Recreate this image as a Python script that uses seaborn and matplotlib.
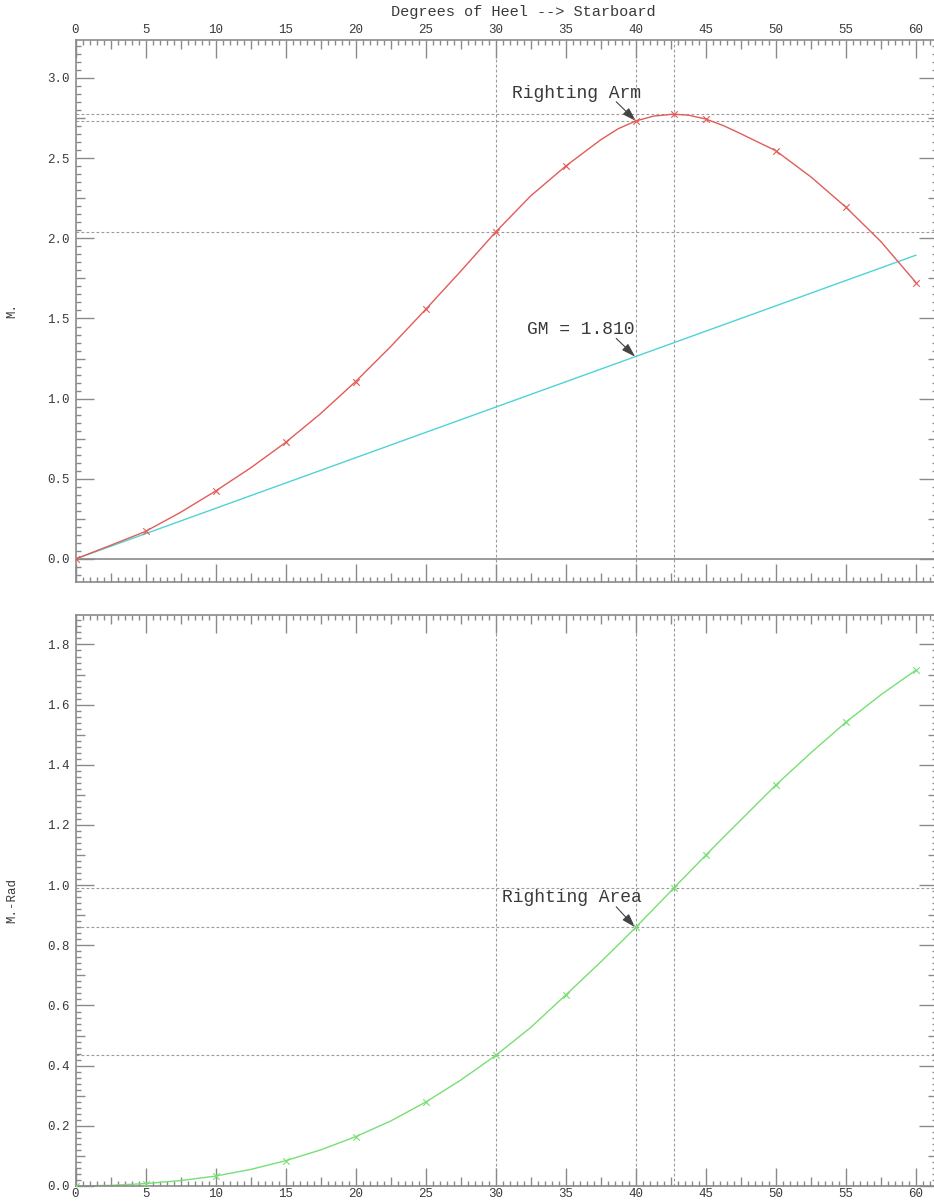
import numpy as np
import pandas as pd
import matplotlib
matplotlib.use("Agg")
import matplotlib.pyplot as plt
import seaborn as sns
from matplotlib.ticker import FixedLocator, MultipleLocator, FuncFormatter

# ---------------- data ----------------
heel_deg = [0, 2.5, 5, 7.5, 10, 12.5, 15, 17.5, 20, 22.5, 25, 27.5, 30,
            32.5, 35, 37.5, 38.75, 40, 41.25, 42.5, 42.73, 43.75, 45, 46.25,
            47.5, 50, 52.5, 55, 57.5, 60]
righting_arm = [0.0, 0.085, 0.172, 0.291, 0.424, 0.568, 0.727, 0.907, 1.107,
                1.325, 1.557, 1.795, 2.040, 2.265, 2.451, 2.615, 2.684, 2.732,
                2.762, 2.773, 2.774, 2.768, 2.744, 2.703, 2.652, 2.546, 2.383,
                2.194, 1.979, 1.724]
righting_area = [0.0, 0.002, 0.008, 0.018, 0.033, 0.055, 0.084, 0.120, 0.164,
                 0.216, 0.279, 0.352, 0.434, 0.527, 0.635, 0.745, 0.802, 0.860,
                 0.920, 0.980, 0.992, 1.040, 1.100, 1.159, 1.217, 1.333, 1.440,
                 1.542, 1.633, 1.715]
marker_heel = [0, 5, 10, 15, 20, 25, 30, 35, 40, 42.73, 45, 50, 55, 60]

gm_heel = [0, 60]
gm_arm = [0.0, 1.895]

ref_heel = [30, 40, 42.73]
ref_arm = [2.040, 2.732, 2.774]
ref_area = [0.434, 0.860, 0.992]

x_tick_labels = ["0", "5", "10", "15", "20", "25", "30", "35", "40", "45", "50", "55", "60"]

title_text = "Degrees of Heel --> Starboard"
top_ylabel = "M."
bottom_ylabel = "M.-Rad"

# annotation: text, text position, arrow tail, arrow head
arm_note = ("Righting Arm", (35.8, 2.906), (38.6, 2.852), (40, 2.732))
gm_note = ("GM = 1.810", (36.05, 1.433), (38.6, 1.376), (39.95, 1.262))
area_note = ("Righting Area", (35.45, 0.959), (38.6, 0.928), (39.95, 0.860))

# ---------------- styling ----------------
sns.set_theme(style="white")
plt.rcParams["font.family"] = ["Liberation Mono", "DejaVu Sans Mono"]
TXT = "#3a3a3a"
AXC = "#8a8a8a"
RED = "#e25c58"
CYAN = "#4fd3d6"
GREEN = "#78df74"
DASH = "#9a9a9a"

df = pd.DataFrame({"heel": heel_deg, "arm": righting_arm, "area": righting_area})
mk = df[df["heel"].isin(marker_heel)]
gm_df = pd.DataFrame({"heel": gm_heel, "arm": gm_arm})

W, H = 934, 1202
fig = plt.figure(figsize=(W / 100, H / 100), dpi=100)
x_left, x_right = 75.5, 937.0
px_per_deg = (916.0 - 75.5) / 60.0
xmax = (x_right - x_left) / px_per_deg

ax1 = fig.add_axes([x_left / W, (H - 582) / H, (x_right - x_left) / W, 542 / H])
ax2 = fig.add_axes([x_left / W, (H - 1186) / H, (x_right - x_left) / W, 571 / H])

# ---------- top panel ----------
sns.lineplot(data=gm_df, x="heel", y="arm", ax=ax1, color=CYAN, lw=1.0, legend=False)
sns.lineplot(data=df, x="heel", y="arm", ax=ax1, color=RED, lw=1.0, legend=False)
sns.scatterplot(data=mk, x="heel", y="arm", ax=ax1, color=RED, marker="x",
                s=22, linewidth=0.8, legend=False, zorder=4)
ax1.axhline(0, color=AXC, lw=1.2, zorder=1)
for xv in ref_heel:
    ax1.axvline(xv, color=DASH, lw=0.8, ls=(0, (2.5, 2.0)), zorder=0)
for yv in ref_arm:
    ax1.axhline(yv, color=DASH, lw=0.8, ls=(0, (2.5, 2.0)), zorder=0)
ax1.set_ylim(-0.1435, 3.237)

# ---------- bottom panel ----------
sns.lineplot(data=df, x="heel", y="area", ax=ax2, color=GREEN, lw=1.0, legend=False)
sns.scatterplot(data=mk, x="heel", y="area", ax=ax2, color=GREEN, marker="x",
                s=22, linewidth=0.8, legend=False, zorder=4)
for xv in ref_heel:
    ax2.axvline(xv, color=DASH, lw=0.8, ls=(0, (2.5, 2.0)), zorder=0)
for yv in ref_area:
    ax2.axhline(yv, color=DASH, lw=0.8, ls=(0, (2.5, 2.0)), zorder=0)
ax2.set_ylim(0, 1.898)

# ---------- axes decoration ----------
x_major = np.arange(0, 62.5, 2.5)


def x_fmt(v, p):
    if abs(v / 5 - round(v / 5)) < 1e-6:
        return x_tick_labels[int(round(v / 5))]
    return ""


def style_axes(ax, labels_top, y_step, y_minor, ymax_tick):
    ax.set_xlim(0, xmax)
    ax.set_xlabel("")
    ax.set_ylabel("")
    for s in ax.spines.values():
        s.set_color(AXC)
        s.set_linewidth(1.2)
    ax.xaxis.set_major_locator(FixedLocator(x_major))
    ax.xaxis.set_major_formatter(FuncFormatter(x_fmt))
    ax.xaxis.set_minor_locator(MultipleLocator(0.5))
    y_major = np.arange(0, ymax_tick + 1e-9, y_step / 2)
    ax.yaxis.set_major_locator(FixedLocator(y_major))
    ax.yaxis.set_major_formatter(FuncFormatter(
        lambda v, p: f"{v:.1f}" if abs(v / y_step - round(v / y_step)) < 1e-6 else ""))
    ax.yaxis.set_minor_locator(MultipleLocator(y_minor))
    ax.tick_params(axis="both", which="both", direction="in", color=AXC,
                   labelcolor=TXT, labelsize=9, width=1.0)
    ax.tick_params(axis="x", which="both", top=True, bottom=True,
                   labeltop=labels_top, labelbottom=not labels_top,
                   pad=3 if labels_top else 1.5)
    ax.tick_params(axis="y", which="both", left=True, right=True,
                   labelleft=True, labelright=False, pad=4)
    ax.tick_params(which="major", length=13)
    ax.tick_params(which="minor", length=3.6)
    # medium ticks at half-steps
    for t, loc in zip(ax.xaxis.get_major_ticks(len(x_major)), x_major):
        if abs(loc / 5 - round(loc / 5)) > 1e-6:
            t.tick1line.set_markersize(6.5)
            t.tick2line.set_markersize(6.5)
    for t, loc in zip(ax.yaxis.get_major_ticks(len(y_major)), y_major):
        if abs(loc / y_step - round(loc / y_step)) > 1e-6:
            t.tick1line.set_markersize(6.5)
            t.tick2line.set_markersize(6.5)


style_axes(ax1, True, 0.5, 0.05, 3.0)
style_axes(ax2, False, 0.2, 0.02, 1.8)

axw = x_right - x_left
ax1.set_ylabel(top_ylabel, color=TXT, fontsize=9)
ax1.yaxis.set_label_coords((18 - x_left) / axw, 0.5)
ax2.set_ylabel(bottom_ylabel, color=TXT, fontsize=9)
ax2.yaxis.set_label_coords((18 - x_left) / axw, 0.5)

fig.text(523 / W, 1 - 12 / H, title_text, ha="center", va="center",
         color=TXT, fontsize=11)

arrow_kw = dict(arrowstyle="-|>,head_length=0.7,head_width=0.22", color="#444444",
                lw=0.8, shrinkA=0, shrinkB=0)
for ax, note in ((ax1, arm_note), (ax1, gm_note), (ax2, area_note)):
    text, tpos, tail, head = note
    ax.text(tpos[0], tpos[1], text, ha="center", va="center", color=TXT, fontsize=13)
    ax.annotate("", xy=head, xytext=tail, arrowprops=arrow_kw)

fig.savefig("out.png", dpi=100)
